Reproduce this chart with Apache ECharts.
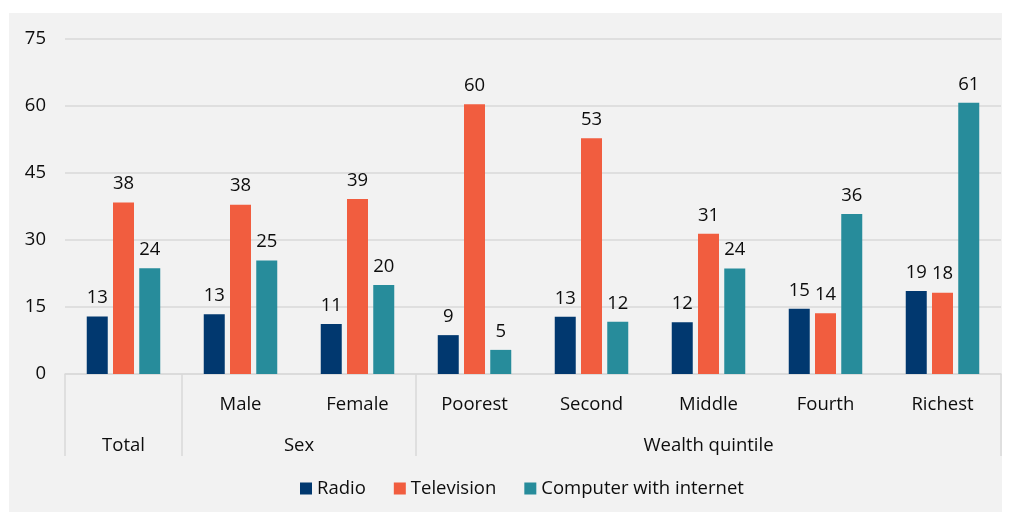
<!DOCTYPE html>
<html>
<head>
<meta charset="utf-8">
<script src="https://cdn.jsdelivr.net/npm/echarts@6/dist/echarts.min.js"></script>
<style>
  html, body { margin: 0; padding: 0; background: #ffffff; }
  #panel { position: absolute; left: 9px; top: 13px; width: 993px; height: 499px; background: #f2f2f2; }
  #chart { position: absolute; left: 0; top: 0; width: 1013px; height: 513px; }
</style>
</head>
<body>
<div id="panel"></div>
<div id="chart"></div>
<script>
// ---- data ----
const categories = ['Total', 'Male', 'Female', 'Poorest', 'Second', 'Middle', 'Fourth', 'Richest'];
const groupNames = ['Total', 'Sex', 'Wealth quintile'];
const groupStarts = [0, 1, 3];
const groupSpans = [1, 2, 5];
const seriesNames = ['Radio', 'Television', 'Computer with internet'];
const radio = [12.9, 13.4, 11.2, 8.7, 12.8, 11.6, 14.6, 18.6];
const television = [38.4, 37.9, 39.2, 60.4, 52.8, 31.4, 13.6, 18.2];
const computer = [23.7, 25.4, 19.9, 5.4, 11.7, 23.6, 35.8, 60.7];
const yTicks = [0, 15, 30, 45, 60, 75];

// ---- derived structures ----
const rowOne = categories.map((c, i) => {
  const g = groupStarts.findIndex((s, k) => i >= s && i < s + groupSpans[k]);
  return groupSpans[g] === 1 ? '' : c;
});
const halfCount = categories.length * 2 + 1;
const rowTwo = new Array(halfCount).fill('');
const boundaries = new Set();
groupNames.forEach((g, k) => {
  rowTwo[groupStarts[k] * 2 + groupSpans[k]] = g;
  boundaries.add(groupStarts[k] * 2);
  boundaries.add((groupStarts[k] + groupSpans[k]) * 2);
});

const FONT = 'Open Sans';
const FS = 18.5;
const TXT = '#0d0d0d';
const GRID = '#d9d9d9';
const colors = ['#01386f', '#f15d3f', '#278c9b'];

const chart = echarts.init(document.getElementById('chart'), null, { renderer: 'canvas' });

const labelOpt = {
  show: true,
  position: 'top',
  distance: 9,
  color: TXT,
  fontFamily: FONT,
  fontSize: FS,
  formatter: p => Math.round(p.value)
};

chart.setOption({
  backgroundColor: 'transparent',
  textStyle: { fontFamily: FONT },
  color: colors,
  legend: {
    data: seriesNames,
    bottom: 10,
    left: 295,
    icon: 'rect',
    itemWidth: 12,
    itemHeight: 12,
    itemGap: 28,
    textStyle: { color: TXT, fontFamily: FONT, fontSize: FS }
  },
  grid: { left: 65, right: 12, top: 39, bottom: 139, containLabel: false },
  xAxis: [
    {
      type: 'category',
      data: rowOne,
      position: 'bottom',
      axisLine: { show: true, lineStyle: { color: GRID, width: 1.5 } },
      axisTick: { show: false },
      axisLabel: { interval: 0, margin: 21, color: TXT, fontFamily: FONT, fontSize: FS }
    },
    {
      type: 'category',
      data: rowTwo,
      position: 'bottom',
      boundaryGap: false,
      axisLine: { show: false },
      axisTick: {
        show: true,
        length: 82,
        interval: (idx) => boundaries.has(idx),
        lineStyle: { color: GRID, width: 1.5 }
      },
      axisLabel: { interval: 0, margin: 62, color: TXT, fontFamily: FONT, fontSize: FS }
    }
  ],
  yAxis: {
    type: 'value',
    min: yTicks[0],
    max: yTicks[yTicks.length - 1],
    interval: yTicks[1] - yTicks[0],
    axisLine: { show: false },
    axisTick: { show: false },
    splitLine: { lineStyle: { color: GRID, width: 1.5 } },
    axisLabel: { margin: 19, color: TXT, fontFamily: FONT, fontSize: FS }
  },
  series: [
    { name: seriesNames[0], type: 'bar', data: radio, barWidth: 21, barGap: '25%', label: labelOpt },
    { name: seriesNames[1], type: 'bar', data: television, barWidth: 21, barGap: '25%', label: labelOpt },
    { name: seriesNames[2], type: 'bar', data: computer, barWidth: 21, barGap: '25%', label: labelOpt }
  ]
});
</script>
</body>
</html>
